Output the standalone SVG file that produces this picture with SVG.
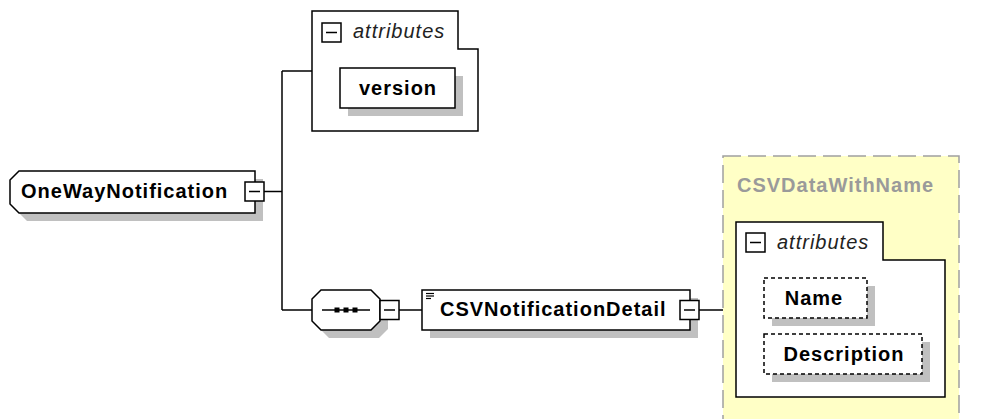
<svg xmlns="http://www.w3.org/2000/svg" xmlns:xlink="http://www.w3.org/1999/xlink" width="984" height="419" viewBox="0 0 984 419">
<style>
.box{fill:#fff;stroke:#000;stroke-width:1.5}
.dbox{fill:#fff;stroke:#000;stroke-width:1.5;stroke-dasharray:4 3}
.shadow{fill:#c0c0c0}
.t{font-family:"Liberation Sans",Arial,sans-serif;font-weight:bold;font-size:20px;letter-spacing:1px;fill:#000}
.it{font-family:"Liberation Sans",Arial,sans-serif;font-style:italic;font-size:20px;letter-spacing:1px;fill:#222}
.gt{font-family:"Liberation Sans",Arial,sans-serif;font-weight:bold;font-size:20px;letter-spacing:1px;fill:#9a9a9a}
.conn{fill:none;stroke:#000;stroke-width:1.5}
.icon{fill:#fff;stroke:#000;stroke-width:1.5}
</style>
<defs>
<g id="minus">
<rect class="icon" x="0" y="0" width="19" height="19"/>
<line x1="4" y1="9.5" x2="15" y2="9.5" stroke="#000" stroke-width="1.5"/>
</g>
</defs>

<g id="connectors">
<path class="conn" d="M264,191.5 H282"/>
<path class="conn" d="M282,71 V310"/>
<path class="conn" d="M282,71 H312"/>
<path class="conn" d="M282,310 H312"/>
<path class="conn" d="M399,310 H422"/>
<path class="conn" d="M699,310 H736"/>
</g>

<g id="OneWayNotification">
<polygon class="shadow" points="18,188 27,179 263,179 263,221 27,221 18,212"/>
<polygon class="box" points="10,180 19,171 255,171 255,213 19,213 10,204"/>
<text class="t" x="21" y="198">OneWayNotification</text>
<use xlink:href="#minus" href="#minus" x="245" y="182"/>
</g>

<g id="attributes1">
<path class="box" d="M312,11 H458 V49 H478 V131 H312 Z"/>
<use xlink:href="#minus" href="#minus" x="322" y="23"/>
<text class="it" x="353" y="38">attributes</text>
</g>

<g id="version">
<rect class="shadow" x="348" y="76" width="115" height="40"/>
<rect class="box" x="340" y="68" width="115" height="40"/>
<text class="t" x="398" y="95" text-anchor="middle">version</text>
</g>

<g id="sequence">
<polygon class="shadow" points="320,307 329,298 379,298 388,307 388,329 379,338 329,338 320,329"/>
<polygon class="box" points="312,299 321,290 371,290 380,299 380,321 371,330 321,330 312,321"/>
<line x1="322" y1="310" x2="370" y2="310" stroke="#000" stroke-width="1.5"/>
<rect x="334.5" y="307.5" width="5" height="5" fill="#000"/>
<rect x="343.5" y="307.5" width="5" height="5" fill="#000"/>
<rect x="352.5" y="307.5" width="5" height="5" fill="#000"/>
<use xlink:href="#minus" href="#minus" x="380" y="300.5"/>
</g>

<g id="CSVNotificationDetail">
<rect class="shadow" x="430" y="298" width="268" height="40"/>
<rect class="box" x="422" y="290" width="268" height="40"/>
<line x1="426" y1="293.5" x2="434" y2="293.5" stroke="#000" stroke-width="1.2"/>
<line x1="426" y1="296" x2="434" y2="296" stroke="#000" stroke-width="1.2"/>
<line x1="426" y1="298.5" x2="431" y2="298.5" stroke="#000" stroke-width="1.2"/>
<text class="t" x="440" y="316">CSVNotificationDetail</text>
<use xlink:href="#minus" href="#minus" x="680" y="300.5"/>
</g>

<g id="CSVDataWithName">
<rect x="723" y="156" width="236" height="290" fill="#ffffc6" stroke="#a0a0a0" stroke-width="1.5" stroke-dasharray="18 7"/>
<text class="gt" x="737" y="192">CSVDataWithName</text>
<path class="box" d="M736,222 H883 V260 H945 V397 H736 Z"/>
<use xlink:href="#minus" href="#minus" x="746" y="233"/>
<text class="it" x="777" y="249">attributes</text>
</g>

<g id="Name">
<rect class="shadow" x="772" y="286" width="103" height="40"/>
<rect class="dbox" x="764" y="278" width="103" height="40"/>
<text class="t" x="814" y="305" text-anchor="middle">Name</text>
</g>

<g id="Description">
<rect class="shadow" x="772" y="342" width="158" height="40"/>
<rect class="dbox" x="764" y="334" width="158" height="40"/>
<text class="t" x="844" y="361" text-anchor="middle">Description</text>
</g>
</svg>
